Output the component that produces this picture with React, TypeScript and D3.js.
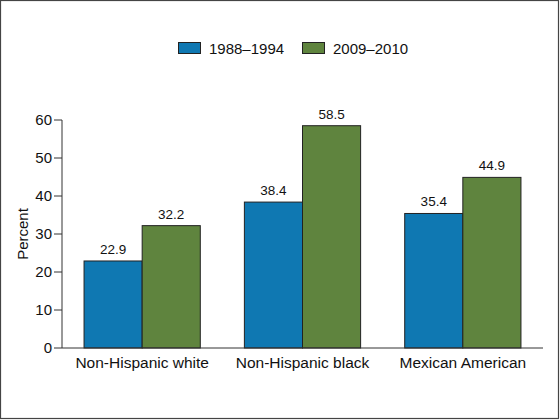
import React from "react";
import * as d3 from "d3";

const categories = ["Non-Hispanic white", "Non-Hispanic black", "Mexican American"];
const seriesNames = ["1988–1994", "2009–2010"];
const values1988 = [22.9, 38.4, 35.4];
const values2009 = [32.2, 58.5, 44.9];
const yTicks = [0, 10, 20, 30, 40, 50, 60];

const colors = ["#0f78b2", "#5f843e"];
const width = 560;
const height = 420;
const margin = {top: 120, right: 17, bottom: 72, left: 62};
const font = "Liberation Sans, Arial, sans-serif";

const App: React.FC = () => {
	const x0 = d3
		.scaleBand<string>()
		.domain(categories)
		.range([margin.left, width - margin.right])
		.paddingInner(0.275)
		.paddingOuter(0.1375);
	const x1 = d3
		.scaleBand<string>()
		.domain(seriesNames)
		.range([0, x0.bandwidth()]);
	const y = d3
		.scaleLinear()
		.domain([0, 60])
		.range([height - margin.bottom, margin.top]);

	const series = [values1988, values2009];

	return (
		<svg
			width={width}
			height={height}
			style={{position: "absolute", left: 0, top: 0, background: "#fff"}}
			fontFamily={font}
		>
			<rect x={0.5} y={0.5} width={width - 2} height={height - 2} fill="#fff" stroke="#444" strokeWidth={1.2} />

			{/* Legend */}
			{seriesNames.map((name, i) => {
				const lx = [178, 302][i];
				return (
					<g key={name}>
						<rect x={lx + 0.5} y={42.5} width={22} height={11} fill={colors[i]} stroke="#222" />
						<text x={lx + 31} y={54} fontSize={15} fill="#111">
							{name}
						</text>
					</g>
				);
			})}

			{/* Bars */}
			{categories.map((cat, ci) => (
				<g key={cat} transform={`translate(${x0(cat)},0)`}>
					{seriesNames.map((s, si) => {
						const v = series[si][ci];
						const bx = x1(s) as number;
						return (
							<g key={s}>
								<rect
									x={bx}
									y={y(v)}
									width={x1.bandwidth()}
									height={y(0) - y(v)}
									fill={colors[si]}
									stroke="#222"
									strokeWidth={1}
								/>
								<text
									x={bx + x1.bandwidth() / 2}
									y={y(v) - 7}
									textAnchor="middle"
									fontSize={13.5}
									fill="#111"
								>
									{v.toFixed(1)}
								</text>
							</g>
						);
					})}
					<text
						x={x0.bandwidth() / 2}
						y={height - margin.bottom + 20}
						textAnchor="middle"
						fontSize={15.5}
						fill="#111"
					>
						{cat}
					</text>
				</g>
			))}

			{/* Y axis */}
			<line x1={margin.left} x2={margin.left} y1={y(60)} y2={y(0)} stroke="#333" />
			{yTicks.map((t) => (
				<g key={t}>
					<line x1={margin.left - 8} x2={margin.left} y1={y(t)} y2={y(t)} stroke="#333" />
					<text x={margin.left - 10} y={y(t) + 5} textAnchor="end" fontSize={15} fill="#111">
						{t}
					</text>
				</g>
			))}
			<line x1={margin.left} x2={width - margin.right} y1={y(0)} y2={y(0)} stroke="#333" />
			<text
				transform={`translate(28,${(y(0) + y(60)) / 2}) rotate(-90)`}
				textAnchor="middle"
				fontSize={15}
				fill="#111"
			>
				Percent
			</text>
		</svg>
	);
};

export default App;
